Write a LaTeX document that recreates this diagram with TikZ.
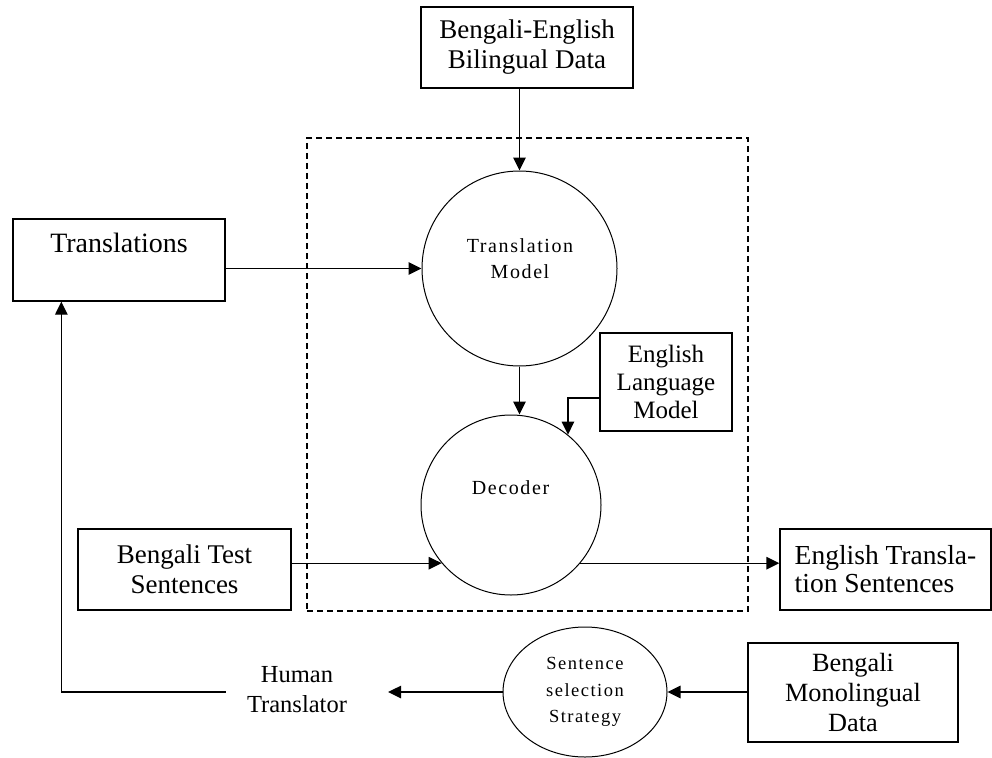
\documentclass[tikz,border=0pt]{standalone}
\usepackage{fontspec}
\setmainfont{Liberation Serif}
\newfontfamily\spacedserif[LetterSpace=8]{Liberation Serif}
\usetikzlibrary{arrows.meta,shapes.geometric}

\tikzset{
  box/.style={draw, line width=1.3pt, rectangle, inner sep=0pt, align=center,
              font=\fontsize{27}{30}\selectfont},
  bubble/.style={draw, line width=1pt, circle, inner sep=0pt},
  oval/.style={draw, line width=1pt, ellipse, inner sep=0pt, align=center,
               font=\spacedserif\fontsize{18.5}{26.5}\selectfont},
  bigtext/.style={inner sep=0pt, align=center, font=\fontsize{27}{30}\selectfont},
  smalltext/.style={inner sep=0pt, align=center, font=\spacedserif\fontsize{20}{26}\selectfont},
  frame/.style={draw, line width=1.1pt, dash pattern=on 6pt off 4pt, inner sep=0pt},
  arr/.style={line width=1.3pt, -{Triangle[length=13pt,width=12.5pt]}},
  wire/.style={line width=1.3pt}
}

\begin{document}
\begin{tikzpicture}[x=1pt,y=-1pt]
\useasboundingbox (0,0) rectangle (992,757);

% dashed frame around the translation engine
\node[frame, minimum width=441pt, minimum height=473pt] (engine) at (527.5,374.5) {};

% boxes
\node[box, minimum width=212pt, minimum height=81pt] (be) at (527,47.5)
  {Bengali-English\\Bilingual Data};
\node[box, minimum width=212pt, minimum height=82pt] (tr) at (119,260) {};
\node[bigtext, font=\fontsize{28}{30}\selectfont] (trtext) at (119,243) {Translations};
\node[box, minimum width=132pt, minimum height=98pt, font=\fontsize{25}{28}\selectfont]
  (elm) at (666,382) {English\\Language\\Model};
\node[box, minimum width=213pt, minimum height=81pt] (bts) at (184.5,569.5)
  {Bengali Test\\Sentences};
\node[box, minimum width=211pt, minimum height=81pt, inner xsep=12pt, align=left,
      font=\fontsize{27.5}{28}\selectfont] (ets) at (885.5,569.5)
  {English Transla-\\tion Sentences};
\node[box, minimum width=210pt, minimum height=99pt, font=\fontsize{26.3}{30}\selectfont]
  (bmd) at (853,692.5) {Bengali\\Monolingual\\Data};

% circles
\node[bubble, minimum size=195pt] (tm) at (519.5,268.5) {};
\node[smalltext] (tmtext) at (520,259) {Translation\\Model};
\node[bubble, minimum size=180pt] (dec) at (511,505) {};
\node[smalltext] (dectext) at (510.5,488) {Decoder};
\node[oval, minimum width=164pt, minimum height=130pt] (ssel) at (585,692)
  {Sentence\\selection\\Strategy};

% free label
\node[bigtext, font=\fontsize{24.5}{30}\selectfont] (ht) at (297,690)
  {Human\\Translator};

% connectors
\draw[arr] (tm.north |- be.south) -- (tm.north);
\draw[arr] (tm.west -| tr.east) -- (tm.west);
\draw[arr] (tm.south) -- (tm.south |- dec.north);
\draw[arr] ([yshift=-16pt]elm.west) -| (dec.51);
\draw[arr] (dec.220 -| bts.east) -- (dec.220);
\draw[arr] (dec.-40) -- (dec.-40 -| ets.west);
\draw[arr] (bmd.west |- ssel.east) -- (ssel.east);
\draw[arr] (ssel.west) -- ([xshift=41pt]ht.east |- ssel.west);
\draw[arr] ([xshift=-21pt]ht.west |- ssel.west) -| ([xshift=49pt]tr.south west);
\end{tikzpicture}
\end{document}
